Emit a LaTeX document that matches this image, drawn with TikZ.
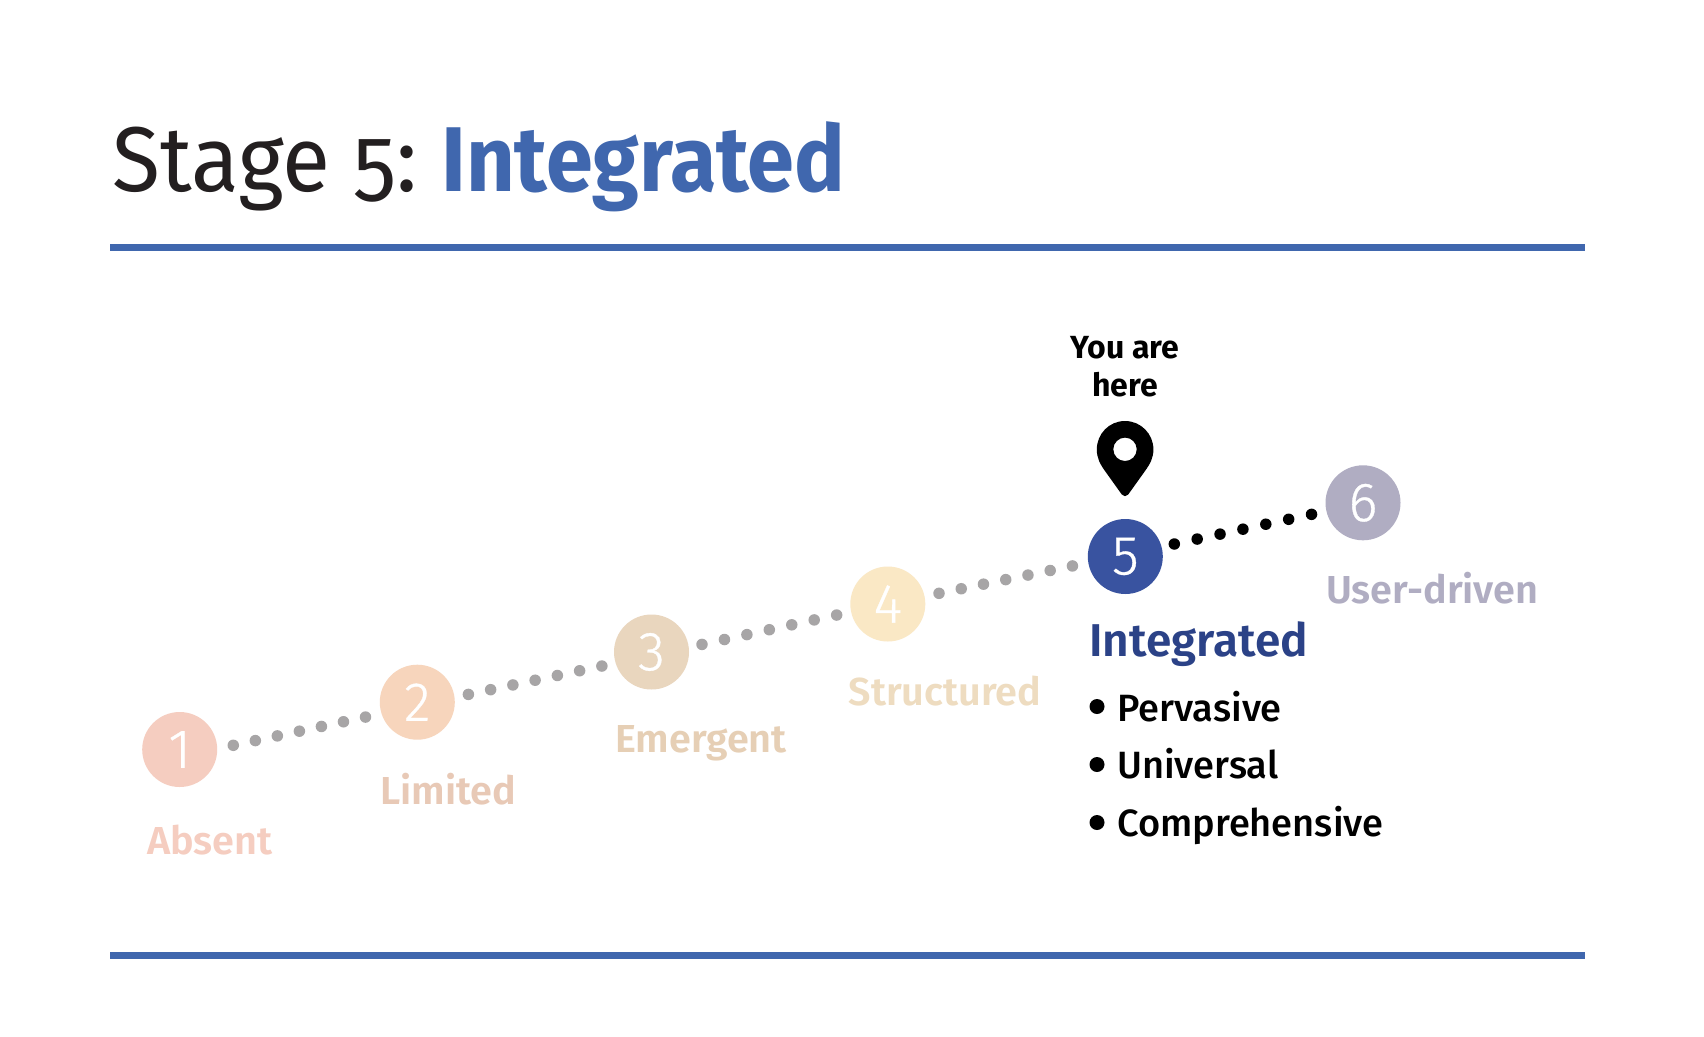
\documentclass[tikz,border=0pt]{standalone}
\usepackage{fontspec}
\setmainfont{Fira Sans}
\newfontfamily\lightfont[UprightFont=* Light,FakeBold=0.6]{Fira Sans}
\newfontfamily\titlelight[FakeStretch=0.955,Numbers=OldStyle]{Fira Sans}
\newfontfamily\semifont[UprightFont=* SemiBold,FakeStretch=1.015]{Fira Sans}
\newfontfamily\headfont[UprightFont=* SemiBold]{Fira Sans}
\newfontfamily\youfont[UprightFont=* Bold]{Fira Sans}
\newfontfamily\boldfont[UprightFont=* Bold,FakeStretch=0.92]{Fira Sans}
\newfontfamily\regfont[UprightFont=* Medium]{Fira Sans}
\definecolor{ruleblue}{HTML}{4067AE}
\definecolor{titleink}{HTML}{231F20}
\definecolor{stageA}{HTML}{F5CDC0}
\definecolor{stageB}{HTML}{F7D5BC}
\definecolor{stageC}{HTML}{E9D6BE}
\definecolor{stageD}{HTML}{FAE8C5}
\definecolor{stageE}{HTML}{3953A0}
\definecolor{stageF}{HTML}{B0ADC2}
\definecolor{labelB}{HTML}{E8C9B6}
\definecolor{labelC}{HTML}{E6CFB5}
\definecolor{labelD}{HTML}{EEDCC0}
\definecolor{headblue}{HTML}{2B4287}
\definecolor{dotgrey}{HTML}{A7A5A6}
\tikzset{
  x=1pt,y=-1pt,
  stage/.style={circle,minimum size=75pt,inner sep=0pt,text=white,font=\lightfont\fontsize{55}{55}\selectfont},
  stagelabel/.style={anchor=base west,inner sep=0pt,font=\semifont\fontsize{39}{39}\selectfont},
  itemtext/.style={anchor=base west,inner sep=0pt,font=\regfont\fontsize{38}{38}\selectfont,text=black},
  bulletdot/.style={circle,fill=black,minimum size=15pt,inner sep=0pt},
  dotline/.style={line width=11.5pt,line cap=round,dash pattern=on 0pt off #1pt},
  rulebar/.style={line width=7pt,draw=ruleblue},
}
\begin{document}
\begin{tikzpicture}
\useasboundingbox (0,0) rectangle (1704,1036);
\fill[white] (0,0) rectangle (1704,1036);
% rules
\coordinate (ruleTL) at (110,247.5);
\coordinate (ruleTR) at (1585,247.5);
\coordinate (ruleBL) at (110,955);
\coordinate (ruleBR) at (1585,955);
\draw[rulebar] (ruleTL) -- (ruleTR);
\draw[rulebar] (ruleBL) -- (ruleBR);
% title
\node[anchor=base west,inner sep=0pt,text=titleink,font=\titlelight\fontsize{92}{92}\selectfont] (title) at (112,191) {Stage 5:};
\node[anchor=base west,inner sep=0pt,text=ruleblue,font=\boldfont\fontsize{92}{92}\selectfont] (titleb) at (441,191) {Integrated};
% stages
\node[stage,fill=stageA] (n1) at (179.7,749.5) {1};
\node[stage,fill=stageB] (n2) at (417.3,702.2) {2};
\node[stage,fill=stageC] (n3) at (651.5,652) {3};
\node[stage,fill=stageD] (n4) at (887.8,604) {4};
\node[stage,fill=stageE] (n5) at (1125.3,556.5) {5};
\node[stage,fill=stageF] (n6) at (1363,502.8) {6};
% connectors
\draw[dotline=22.53,draw=dotgrey] ([shift={(53.6,-4.2)}]n1.center) -- ([shift={(-51.6,14.8)}]n2.center);
\draw[dotline=22.74,draw=dotgrey] ([shift={(51.1,-7.8)}]n2.center) -- ([shift={(-49.5,14)}]n3.center);
\draw[dotline=22.97,draw=dotgrey] ([shift={(50.5,-7.6)}]n3.center) -- ([shift={(-51,11)}]n4.center);
\draw[dotline=22.7,draw=dotgrey] ([shift={(51.2,-10.7)}]n4.center) -- ([shift={(-52.7,9.4)}]n5.center);
\draw[dotline=23.4,draw=black] ([shift={(49,-12.5)}]n5.center) -- ([shift={(-51.3,11.5)}]n6.center);
% labels
\node[stagelabel,text=stageA] (l1) at (147,854.5) {Absent};
\node[stagelabel,text=labelB] (l2) at (380,804) {Limited};
\node[stagelabel,text=labelC] (l3) at (615,752) {Emergent};
\node[stagelabel,text=labelD] (l4) at (848.5,705) {Structured};
\node[stagelabel,text=stageF] (l6) at (1326,603) {User-driven};
\node[anchor=base west,inner sep=0pt,text=headblue,font=\headfont\fontsize{46}{46}\selectfont] (l5) at (1089,656) {Integrated};
% list
\node[bulletdot] (b1) at (1097,706.5) {};
\node[bulletdot] (b2) at (1097,764.5) {};
\node[bulletdot] (b3) at (1097,822.5) {};
\node[itemtext] (i1) at (1117,721) {Pervasive};
\node[itemtext] (i2) at (1117,778.5) {Universal};
\node[itemtext] (i3) at (1117,836.5) {Comprehensive};
% you are here
\node[anchor=base,inner sep=0pt,font=\youfont\fontsize{32}{32}\selectfont,text=black] (y1) at (1125,358) {You are};
\node[anchor=base,inner sep=0pt,font=\youfont\fontsize{32}{32}\selectfont,text=black] (y2) at (1125,396) {here};
% pin
\fill[black,even odd rule] (1125,421) .. controls (1109,421) and (1096.8,434) .. (1096.8,449.5)
  .. controls (1096.8,458) and (1100,464) .. (1105,471)
  -- (1121.8,494.5) .. controls (1123.6,496.8) and (1126.4,496.8) .. (1128.2,494.5)
  -- (1145,471) .. controls (1150,464) and (1153.4,458) .. (1153.4,449.5)
  .. controls (1153.4,434) and (1141,421) .. (1125,421) -- cycle
  (1125,449.3) circle[radius=11.7];
\end{tikzpicture}
\end{document}
